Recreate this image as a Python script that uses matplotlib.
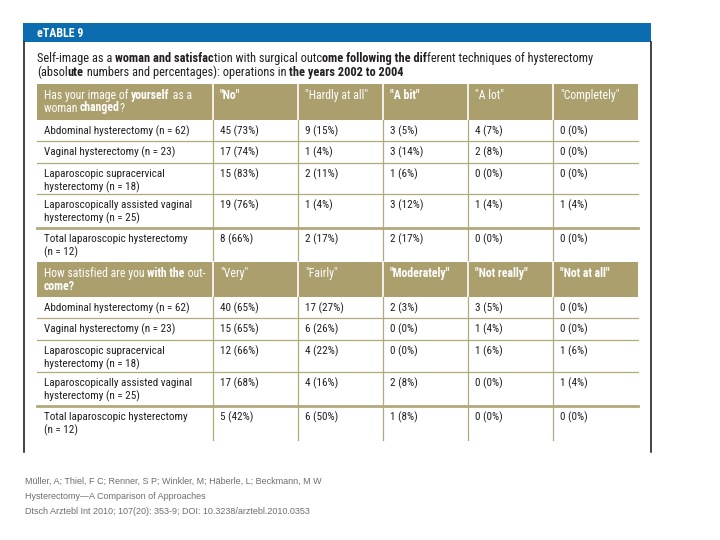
import matplotlib
matplotlib.use("Agg")
import matplotlib.pyplot as plt
from matplotlib import font_manager
from matplotlib.font_manager import FontProperties
from matplotlib.patches import Rectangle

# prefer a narrow face like the source; fall back to whatever is installed
candidates = ["Liberation Sans Narrow", "Roboto Condensed", "DejaVu Sans Condensed",
              "Roboto", "Liberation Sans", "DejaVu Sans"]
installed = {f.name for f in font_manager.fontManager.ttflist}
FONT = [c for c in candidates if c in installed] + ["DejaVu Sans"]

# table content
procedures = [
    "Abdominal hysterectomy (n = 62)",
    "Vaginal hysterectomy (n = 23)",
    "Laparoscopic supracervical\nhysterectomy (n = 18)",
    "Laparoscopically assisted vaginal\nhysterectomy (n = 25)",
    "Total laparoscopic hysterectomy\n(n = 12)",
]
image_cols = ['"No"', '"Hardly at all"', '"A bit"', '"A lot"', '"Completely"']
image_n = [[45, 9, 3, 4, 0], [17, 1, 3, 2, 0], [15, 2, 1, 0, 0],
           [19, 1, 3, 1, 1], [8, 2, 2, 0, 0]]
image_pct = [[73, 15, 5, 7, 0], [74, 4, 14, 8, 0], [83, 11, 6, 0, 0],
             [76, 4, 12, 4, 4], [66, 17, 17, 0, 0]]
satis_cols = ['"Very"', '"Fairly"', '"Moderately"', '"Not really"', '"Not at all"']
satis_n = [[40, 17, 2, 3, 0], [15, 6, 0, 1, 0], [12, 4, 0, 1, 1],
           [17, 4, 2, 0, 1], [5, 6, 1, 0, 0]]
satis_pct = [[65, 27, 3, 5, 0], [65, 26, 0, 4, 0], [66, 22, 0, 6, 6],
             [68, 16, 8, 0, 4], [42, 50, 8, 0, 0]]

# header texts as (piece, bold) runs, mimicking the odd bolding of the source
image_question = [[("Has your image of ", 0), ("yourself", 1), (" as a", 0)],
                  [("woman ", 0), ("changed", 1), ("?", 0)]]
satis_question = [[("How satisfied are you ", 0), ("with the", 1), (" out-", 0)],
                  [("come?", 1)]]
image_bold = [1, 0, 1, 0, 0]
satis_bold = [0, 0, 1, 1, 1]

title_lines = [
    [("Self-image as a ", 0), ("woman and satisfac", 1), ("tion with surgical outc", 0),
     ("ome following the dif", 1), ("ferent techniques of hysterectomy", 0)],
    [("(absol", 0), ("ute", 1), (" numbers and percentages): operations in ", 0),
     ("the years 2002 to 2004", 1)],
]
citation = [
    "Müller, A; Thiel, F C; Renner, S P; Winkler, M; Häberle, L; Beckmann, M W",
    "Hysterectomy—A Comparison of Approaches",
    "Dtsch Arztebl Int 2010; 107(20): 353-9; DOI: 10.3238/arztebl.2010.0353",
]

BLUE = "#0b6db0"
TAN = "#ab9f6e"
LINE = "#b3a87c"
TXT = "#231f20"

fig = plt.figure(figsize=(7.2, 5.4), dpi=100)
ax = fig.add_axes([0, 0, 1, 1])
ax.set_xlim(0, 720)
ax.set_ylim(540, 0)
ax.axis("off")
renderer = fig.canvas.get_renderer()


def text_width(s, size, weight, family=FONT):
    # advance width: bracket with bars so bearings and spaces cancel out
    prop = FontProperties(family=family, size=size, weight=weight)
    w, _, _ = renderer.get_text_width_height_descent("|" + s + "|", prop, ismath=False)
    w0, _, _ = renderer.get_text_width_height_descent("||", prop, ismath=False)
    return w - w0


def run_width(parts, size):
    return sum(text_width(s, size, "bold" if b else "normal") for s, b in parts)


def rich(x, y, parts, size, color):
    for s, bold in parts:
        weight = "bold" if bold else "normal"
        ax.text(x, y, s, fontsize=size, fontweight=weight, color=color,
                family=FONT, va="baseline", ha="left")
        x += text_width(s, size, weight)


# font sizes fitted to the widths measured on the reference
body_size = min(8.5, 8 * 146 / text_width(procedures[0], 8, "normal"))
head_size = min(9, 9 * 148 / run_width(image_question[0], 9))
title_size = min(9.5, 9 * 560 / run_width(title_lines[0], 9))
tag_size = min(10, 9 * 47 / text_width("eTABLE 9", 9, "bold"))
cite_fam = ["Liberation Sans", "DejaVu Sans"]
cite_size = 6.3 * 297 / text_width(citation[0], 6.3, "normal", cite_fam)

# frame and blue banner
ax.add_patch(Rectangle((23, 23), 628, 19, color=BLUE, lw=0))
ax.text(37, 37, "eTABLE 9", color="white", fontsize=tag_size, fontweight="bold",
        family=FONT, va="baseline")
ax.plot([23.5, 23.5], [42, 452], color="#111111", lw=1.1)
ax.plot([650.5, 650.5], [42, 452], color="#111111", lw=1.1)

for i, line in enumerate(title_lines):
    rich(37, 62 + 14 * i, line, title_size, TXT)

col_x = [37, 213, 298, 383, 468, 553, 638]
pad = 7


def section(top, head_h, row_h, question, cols, bold, counts, pcts):
    ax.add_patch(Rectangle((col_x[0], top), col_x[-1] - col_x[0], head_h,
                           color=TAN, lw=0))
    for i, line in enumerate(question):
        rich(col_x[0] + pad, top + 15 + 12.5 * i, line, head_size, "white")
    for j, c in enumerate(cols):
        ax.text(col_x[j + 1] + pad, top + 15, c, color="white", fontsize=head_size,
                fontweight="bold" if bold[j] else "normal", family=FONT,
                va="baseline")
    for xv in col_x[1:-1]:
        ax.plot([xv, xv], [top, top + head_h], color="white", lw=1.2)
    y = top + head_h
    bottom = y + sum(row_h)
    for xv in col_x[1:-1]:
        ax.plot([xv, xv], [y, bottom], color=LINE, lw=0.9)
    for r, h in enumerate(row_h):
        for k, ln in enumerate(procedures[r].split("\n")):
            ax.text(col_x[0] + pad, y + 14 + 13 * k, ln, color=TXT,
                    fontsize=body_size, family=FONT, va="baseline")
        for j in range(len(cols)):
            ax.text(col_x[j + 1] + pad, y + 14,
                    f"{counts[r][j]} ({pcts[r][j]}%)", color=TXT,
                    fontsize=body_size, family=FONT, va="baseline")
        y += h
        if r < len(row_h) - 1:
            ax.plot([col_x[0], col_x[-1]], [y, y], color=LINE,
                    lw=2.0 if r == len(row_h) - 2 else 0.9)


section(84, 36, [21, 22, 31, 34, 34], image_question, image_cols, image_bold,
        image_n, image_pct)
section(262, 35, [21, 22, 32, 34, 34], satis_question, satis_cols, satis_bold,
        satis_n, satis_pct)

for i, line in enumerate(citation):
    ax.text(25, 484 + 15 * i, line, color="#6d6d6d", fontsize=cite_size,
            family=cite_fam, va="baseline")

fig.savefig("out.png", dpi=100, facecolor="white")
